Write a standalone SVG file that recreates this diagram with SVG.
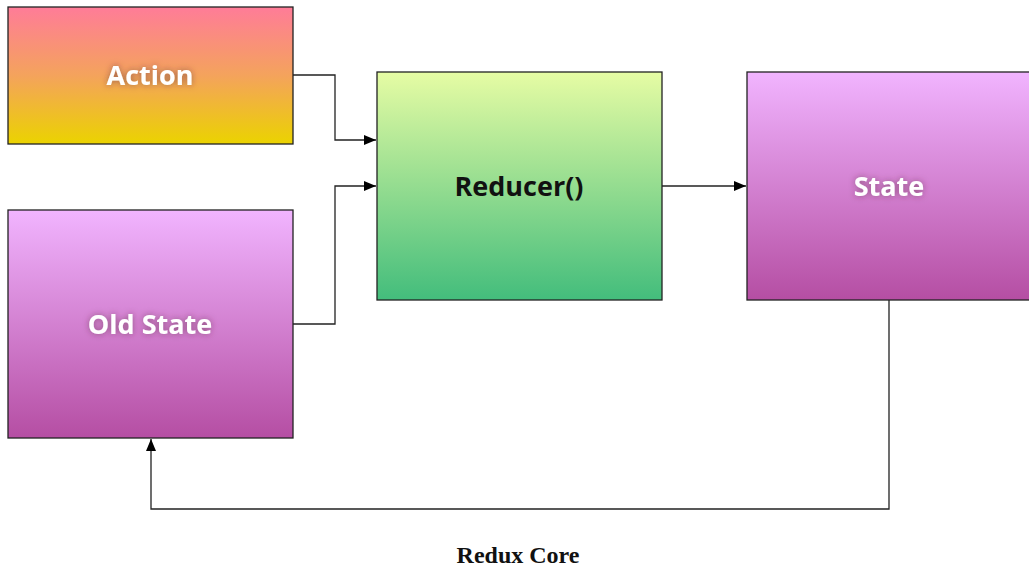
<svg xmlns="http://www.w3.org/2000/svg" width="1029" height="567" viewBox="0 0 1029 567">
<defs>
<linearGradient id="gAction" x1="0" y1="0" x2="0" y2="1"><stop offset="0" stop-color="#ff7c98"/><stop offset="0.5" stop-color="#f4a35c"/><stop offset="1" stop-color="#ebd300"/></linearGradient>
<linearGradient id="gPurple" x1="0" y1="0" x2="0" y2="1"><stop offset="0" stop-color="#f1b4ff"/><stop offset="1" stop-color="#b54ea3"/></linearGradient>
<linearGradient id="gGreen" x1="0" y1="0" x2="0" y2="1"><stop offset="0" stop-color="#e6fca4"/><stop offset="1" stop-color="#43bd7c"/></linearGradient>
<filter id="glow" x="-30%" y="-60%" width="160%" height="220%">
<feGaussianBlur in="SourceAlpha" stdDeviation="3" result="b"/>
<feFlood flood-color="#5a2a3a" flood-opacity="0.55"/>
<feComposite in2="b" operator="in" result="s"/>
<feMerge><feMergeNode in="s"/><feMergeNode in="SourceGraphic"/></feMerge>
</filter>
<marker id="arr" viewBox="0 0 12 10" refX="12" refY="5" markerWidth="12" markerHeight="10" markerUnits="userSpaceOnUse" orient="auto"><path d="M0,0 L12,5 L0,10 z" fill="#000"/></marker>
</defs>
<style>
.box{stroke:#222;stroke-width:1.3}
.lbl{font-family:"Open Sans",sans-serif;font-weight:bold;font-size:27px;text-anchor:middle;fill:#fff}
.dark{fill:#111}
.con{fill:none;stroke:#222;stroke-width:1.3}
.cap{font-family:"Liberation Serif",serif;font-weight:bold;font-size:24px;text-anchor:middle;fill:#111}
</style>
<rect width="1029" height="567" fill="#fff"/>
<g id="connectors">
<path class="con" d="M293,75 H335 V140 H376" marker-end="url(#arr)"/>
<path class="con" d="M293,324 H335 V186 H376" marker-end="url(#arr)"/>
<path class="con" d="M662,186 H746" marker-end="url(#arr)"/>
<path class="con" d="M889,300 V509 H151 V439" marker-end="url(#arr)"/>
</g>
<g id="action">
<rect class="box" x="8" y="7" width="285" height="137" fill="url(#gAction)"/>
<text class="lbl" x="150" y="85" filter="url(#glow)">Action</text>
</g>
<g id="old-state">
<rect class="box" x="8" y="210" width="285" height="228" fill="url(#gPurple)"/>
<text class="lbl" x="150" y="334" filter="url(#glow)">Old State</text>
</g>
<g id="reducer">
<rect class="box" x="377" y="72" width="285" height="228" fill="url(#gGreen)"/>
<text class="lbl dark" x="519" y="196">Reducer()</text>
</g>
<g id="state">
<rect class="box" x="747" y="72" width="285" height="228" fill="url(#gPurple)"/>
<text class="lbl" x="889" y="196" filter="url(#glow)">State</text>
</g>
<text class="cap" x="518" y="563">Redux Core</text>
</svg>
